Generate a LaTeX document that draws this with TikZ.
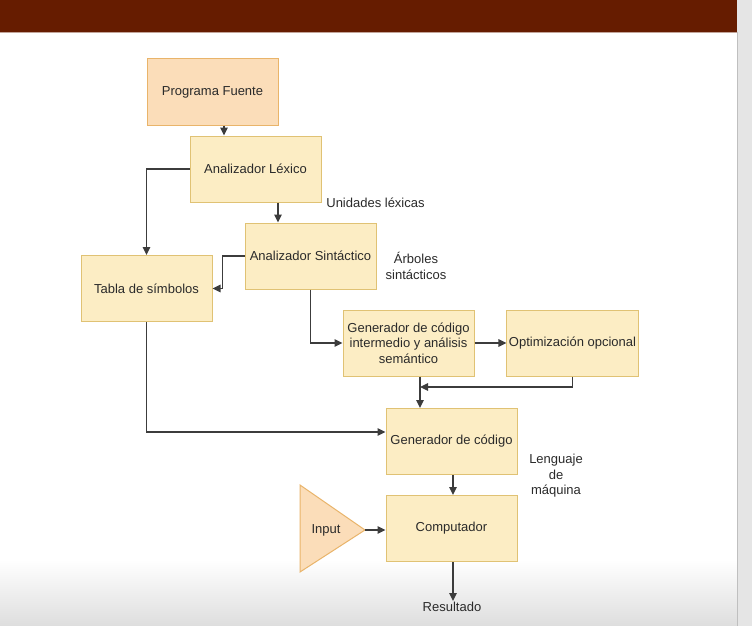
\documentclass[tikz,border=0pt]{standalone}
\usepackage{fontspec}
\setmainfont{Liberation Sans}
\usetikzlibrary{arrows.meta}
\definecolor{hdr}{HTML}{661C00}
\definecolor{boxfill}{HTML}{FCEDC4}
\definecolor{boxline}{HTML}{E0C274}
\definecolor{peach}{HTML}{FBDDB9}
\definecolor{peachline}{HTML}{E9B46A}
\definecolor{wire}{HTML}{3C3C3C}
\definecolor{txt}{HTML}{2A2A2A}
\begin{document}
\begin{tikzpicture}[x=1pt,y=-1pt,
  font=\fontsize{13}{15.5}\selectfont, text=txt,
  stepbox/.style={draw=boxline, fill=boxfill, line width=1pt,
    minimum width=131pt, minimum height=66pt, inner sep=2pt, align=center},
  srcbox/.style={stepbox, fill=peach, draw=peachline},
  lbl/.style={align=center, inner sep=1pt},
  arr/.style={draw=wire, line width=1.3pt,
    -{Triangle[length=8pt,width=7.5pt]}}]
  % page frame
  \useasboundingbox (0,0) rectangle (752,626);
  \fill[white] (0,0) rectangle (752,626);
  \shade[top color=white, bottom color=black!13] (0,560) rectangle (737,626);
  \fill[black!10] (737,0) rectangle (752,626);
  \draw[black!25, line width=1pt] (737,32) -- (737,626);
  \fill[hdr] (0,0) rectangle (737,32);
  \draw[hdr!40, line width=0.6pt] (0,32.3) -- (737,32.3);

  % process stages
  \node[srcbox]  (pf)   at (212.5,92)   {Programa Fuente};
  \node[stepbox] (lex)  at (255.5,169)  {Analizador Léxico};
  \node[stepbox] (sin)  at (310.5,256)  {Analizador Sintáctico};
  \node[stepbox] (tab)  at (146.5,288.5){Tabla de símbolos};
  \node[stepbox] (gci)  at (408.5,343)  {Generador de código\\intermedio y análisis\\semántico};
  \node[stepbox] (opt)  at (572.5,343)  {Optimización opcional};
  \node[stepbox] (gc)   at (451.5,441.5){Generador de código};
  \node[stepbox] (comp) at (451.5,528.5){Computador};

  % input triangle
  \filldraw[fill=peach, draw=peachline, line width=1pt]
    (300,485) -- (365,530) -- (300,572) -- cycle;
  \node (inp) at (326,530) {Input};
  \coordinate (intip) at (365,530);

  % free labels
  \node[lbl] (ul)  at (375.5,203) {Unidades léxicas};
  \node[lbl] (as)  at (416,266) {Árboles\\sintácticos};
  \node[lbl] (lm)  at (556,476) {Lenguaje\\de\\máquina};
  \node[lbl] (res) at (452,607) {Resultado};

  % connectors
  \coordinate (a1) at ([xshift=11.5pt]pf.south);
  \draw[arr] (a1) -- (a1 |- lex.north);
  \draw[arr] (lex.west) -| (tab.north);
  \coordinate (a3) at ([xshift=22.5pt]lex.south);
  \draw[arr] (a3) -- (a3 |- sin.north);
  \draw[arr] (sin.west) -- ++(-22,0) |- (tab.east);
  \draw[arr] (sin.south) |- (gci.west);
  \draw[arr] (gci.east) -- (opt.west);
  \coordinate (a7) at ([xshift=11.5pt]gci.south);
  \coordinate (j) at (a7 |- 0,387);
  \draw[arr] (opt.south) |- (j);
  \draw[arr] (a7) -- (a7 |- gc.north);
  \draw[arr] (tab.south) |- ([yshift=9.5pt]gc.west);
  \draw[arr] ([xshift=1.5pt]gc.south) -- ([xshift=1.5pt]comp.north);
  \draw[arr] (intip) -- (intip -| comp.west);
  \draw[arr] ([xshift=1.5pt]comp.south) -- ([xshift=1.5pt]comp.south |- res.north);
\end{tikzpicture}
\end{document}
